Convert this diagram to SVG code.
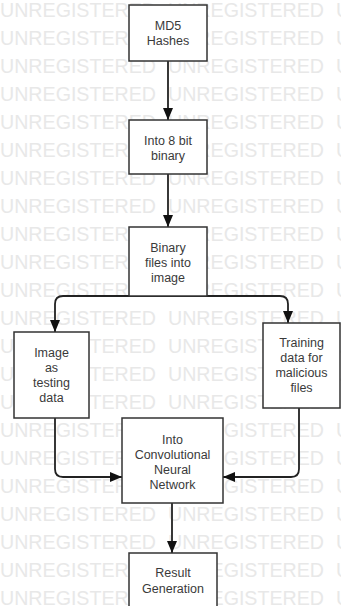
<svg xmlns="http://www.w3.org/2000/svg" width="341" height="606" viewBox="0 0 341 606">
<style>
.wm{font-family:"Liberation Sans",Arial,sans-serif;font-size:20px;fill:#e8e8e8}
.box{fill:#fff;stroke:#333;stroke-width:1.5}
.lbl{font-family:"Liberation Sans",Arial,sans-serif;font-size:12.5px;fill:#3a3a3a;text-anchor:middle}
.edge{fill:none;stroke:#222;stroke-width:1.8}
</style>
<defs>
<marker id="ah" markerUnits="userSpaceOnUse" markerWidth="12" markerHeight="10" refX="12" refY="5" orient="auto">
<path d="M0,0 L12,5 L0,10 z" fill="#111"/>
</marker>
<g id="wmrow" class="wm">
<text x="0" textLength="156" lengthAdjust="spacingAndGlyphs">UNREGISTERED</text>
<text x="168" textLength="156" lengthAdjust="spacingAndGlyphs">UNREGISTERED</text>
<text x="336" textLength="156" lengthAdjust="spacingAndGlyphs">UNREGISTERED</text>
</g>
</defs>
<rect width="341" height="606" fill="#fff"/>
<g id="watermark">
<use href="#wmrow" y="17"/><use href="#wmrow" y="45"/><use href="#wmrow" y="73"/><use href="#wmrow" y="101"/>
<use href="#wmrow" y="129"/><use href="#wmrow" y="157"/><use href="#wmrow" y="185"/><use href="#wmrow" y="213"/>
<use href="#wmrow" y="241"/><use href="#wmrow" y="269"/><use href="#wmrow" y="297"/><use href="#wmrow" y="325"/>
<use href="#wmrow" y="353"/><use href="#wmrow" y="381"/><use href="#wmrow" y="409"/><use href="#wmrow" y="437"/>
<use href="#wmrow" y="465"/><use href="#wmrow" y="493"/><use href="#wmrow" y="521"/><use href="#wmrow" y="549"/>
<use href="#wmrow" y="577"/><use href="#wmrow" y="605"/>
</g>
<g id="connectors">
<path class="edge" d="M168,61 V120" marker-end="url(#ah)"/>
<path class="edge" d="M168,174 V227" marker-end="url(#ah)"/>
<path class="edge" d="M168,296 H63 Q55,296 55,304 V332" marker-end="url(#ah)"/>
<path class="edge" d="M168,296 H280 Q288,296 288,304 V323" marker-end="url(#ah)"/>
<path class="edge" d="M55,418 V469 Q55,477 63,477 H122" marker-end="url(#ah)"/>
<path class="edge" d="M299,408 V469 Q299,477 291,477 H223" marker-end="url(#ah)"/>
<path class="edge" d="M172,503 V553" marker-end="url(#ah)"/>
</g>
<g id="n1"><rect class="box" x="129" y="5" width="78" height="56"/>
<text class="lbl" x="168" y="30">MD5</text><text class="lbl" x="168" y="45">Hashes</text></g>
<g id="n2"><rect class="box" x="129" y="120" width="78" height="54"/>
<text class="lbl" x="168" y="145">Into 8 bit</text><text class="lbl" x="168" y="160">binary</text></g>
<g id="n3"><rect class="box" x="129" y="227" width="78" height="69"/>
<text class="lbl" x="168" y="252">Binary</text><text class="lbl" x="168" y="267">files into</text><text class="lbl" x="168" y="282">image</text></g>
<g id="n4"><rect class="box" x="14" y="332" width="75" height="86"/>
<text class="lbl" x="51.5" y="357">Image</text><text class="lbl" x="51.5" y="372">as</text><text class="lbl" x="51.5" y="387">testing</text><text class="lbl" x="51.5" y="402">data</text></g>
<g id="n5"><rect class="box" x="263" y="323" width="77" height="85"/>
<text class="lbl" x="301.5" y="347">Training</text><text class="lbl" x="301.5" y="362">data for</text><text class="lbl" x="301.5" y="377">malicious</text><text class="lbl" x="301.5" y="392">files</text></g>
<g id="n6"><rect class="box" x="122" y="418" width="101" height="85"/>
<text class="lbl" x="172.5" y="444">Into</text><text class="lbl" x="172.5" y="459">Convolutional</text><text class="lbl" x="172.5" y="474">Neural</text><text class="lbl" x="172.5" y="489">Network</text></g>
<g id="n7"><rect class="box" x="129" y="553" width="88" height="60"/>
<text class="lbl" x="173" y="577">Result</text><text class="lbl" x="173" y="593">Generation</text></g>
</svg>
